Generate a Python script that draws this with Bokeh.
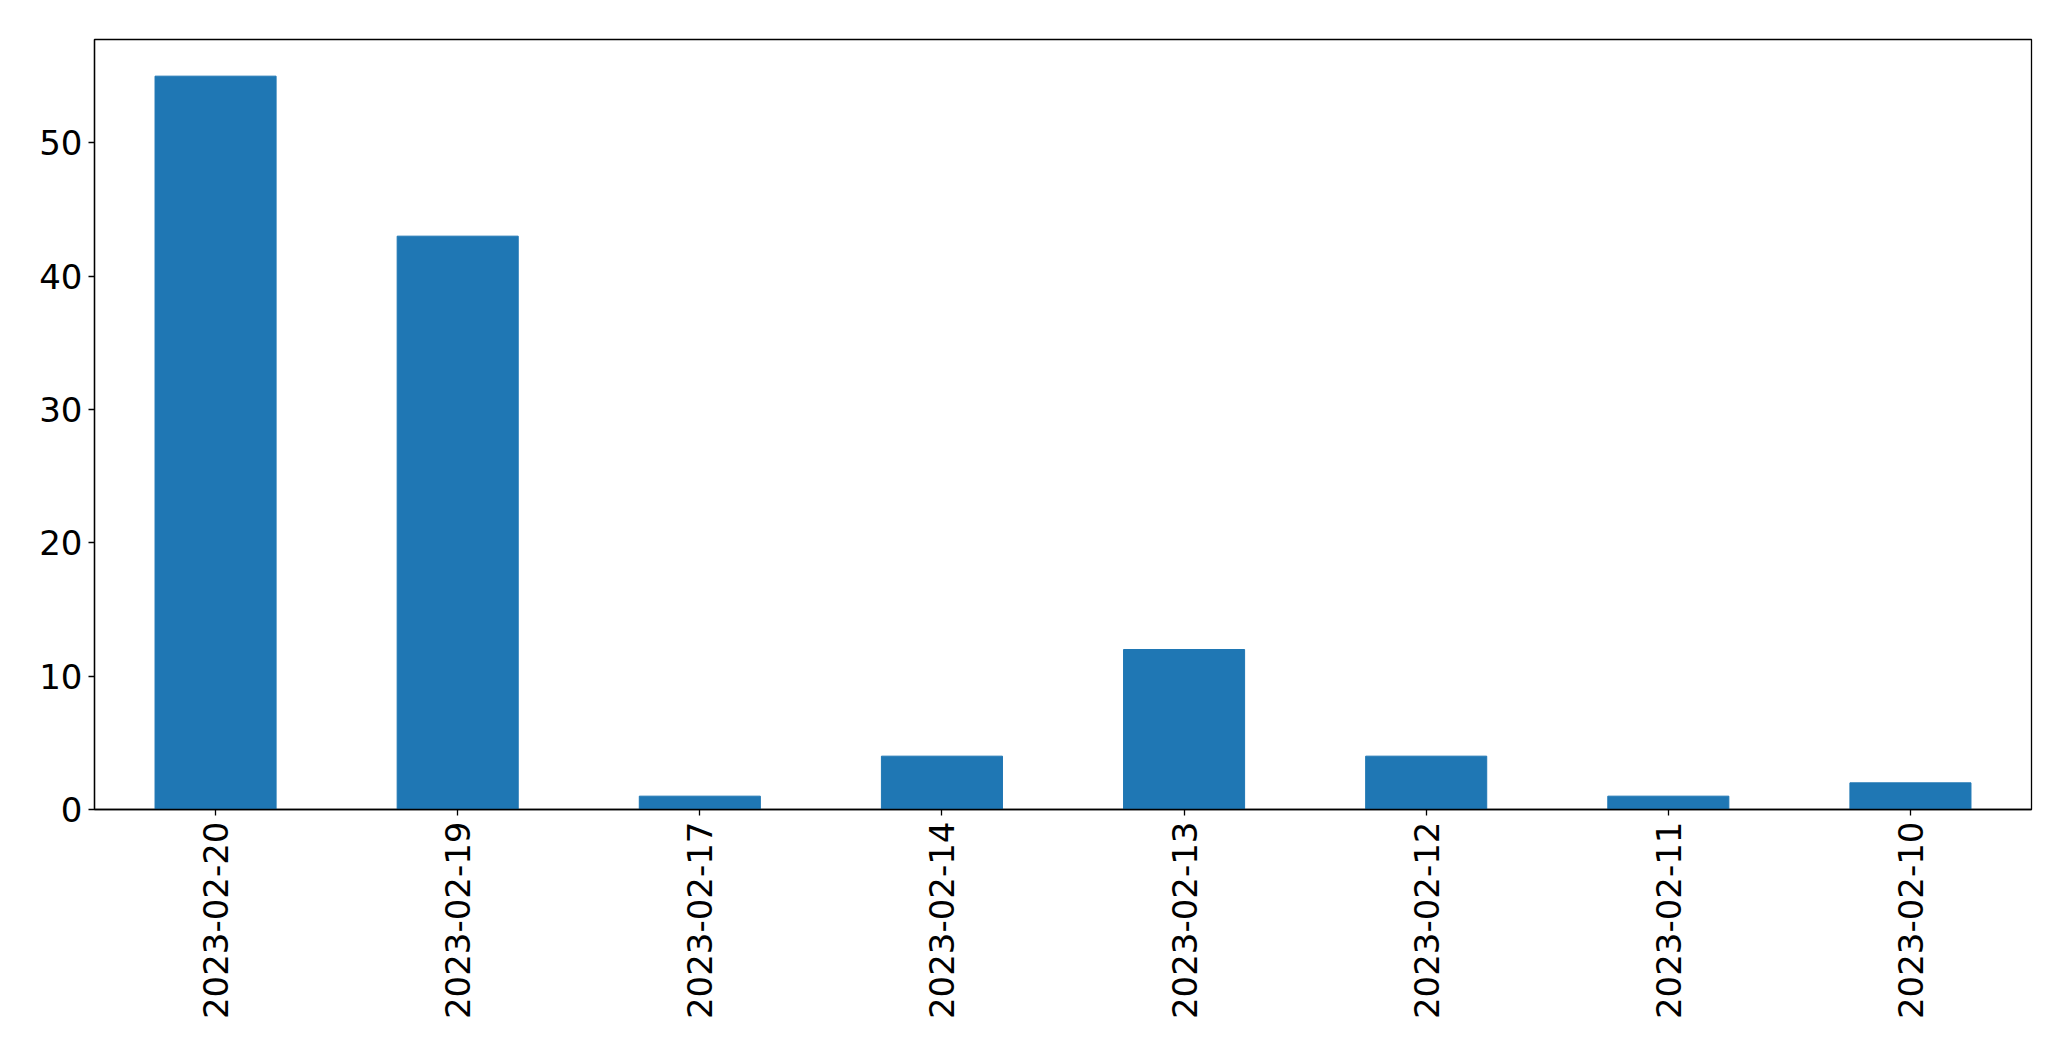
import math
from bokeh.plotting import figure
from bokeh.models import FixedTicker, Range1d
from bokeh.embed import file_html
from bokeh.resources import INLINE

dates = ["2023-02-20", "2023-02-19", "2023-02-17", "2023-02-14",
         "2023-02-13", "2023-02-12", "2023-02-11", "2023-02-10"]
counts = [55, 43, 1, 4, 12, 4, 1, 2]
y_ticks = [0, 10, 20, 30, 40, 50]

p = figure(x_range=dates, y_range=Range1d(0, max(counts) * 1.05),
           width=2055, height=1045, output_backend="svg", toolbar_location=None,
           min_border_left=94, min_border_right=24, min_border_top=39,
           min_border_bottom=236)
p.vbar(x=dates, top=counts, width=0.5, color="#1f77b4")

p.x_range.range_padding = 0
p.xgrid.visible = False
p.ygrid.visible = False
p.outline_line_color = "black"
p.outline_line_width = 1.3

for ax in (p.xaxis, p.yaxis):
    ax.axis_line_color = "black"
    ax.axis_line_width = 1.3
    ax.major_tick_line_color = "black"
    ax.major_tick_line_width = 1.3
    ax.major_tick_out = 6
    ax.major_tick_in = 0
    ax.minor_tick_line_color = None
    ax.major_label_text_font = "DejaVu Sans"
    ax.major_label_text_font_size = "34px"
    ax.major_label_text_color = "black"

p.yaxis.ticker = FixedTicker(ticks=y_ticks)
p.yaxis.major_label_standoff = 6
p.xaxis.major_label_orientation = math.pi / 2
p.xaxis.major_label_standoff = 6

open("out.html", "w").write(file_html(p, INLINE))
